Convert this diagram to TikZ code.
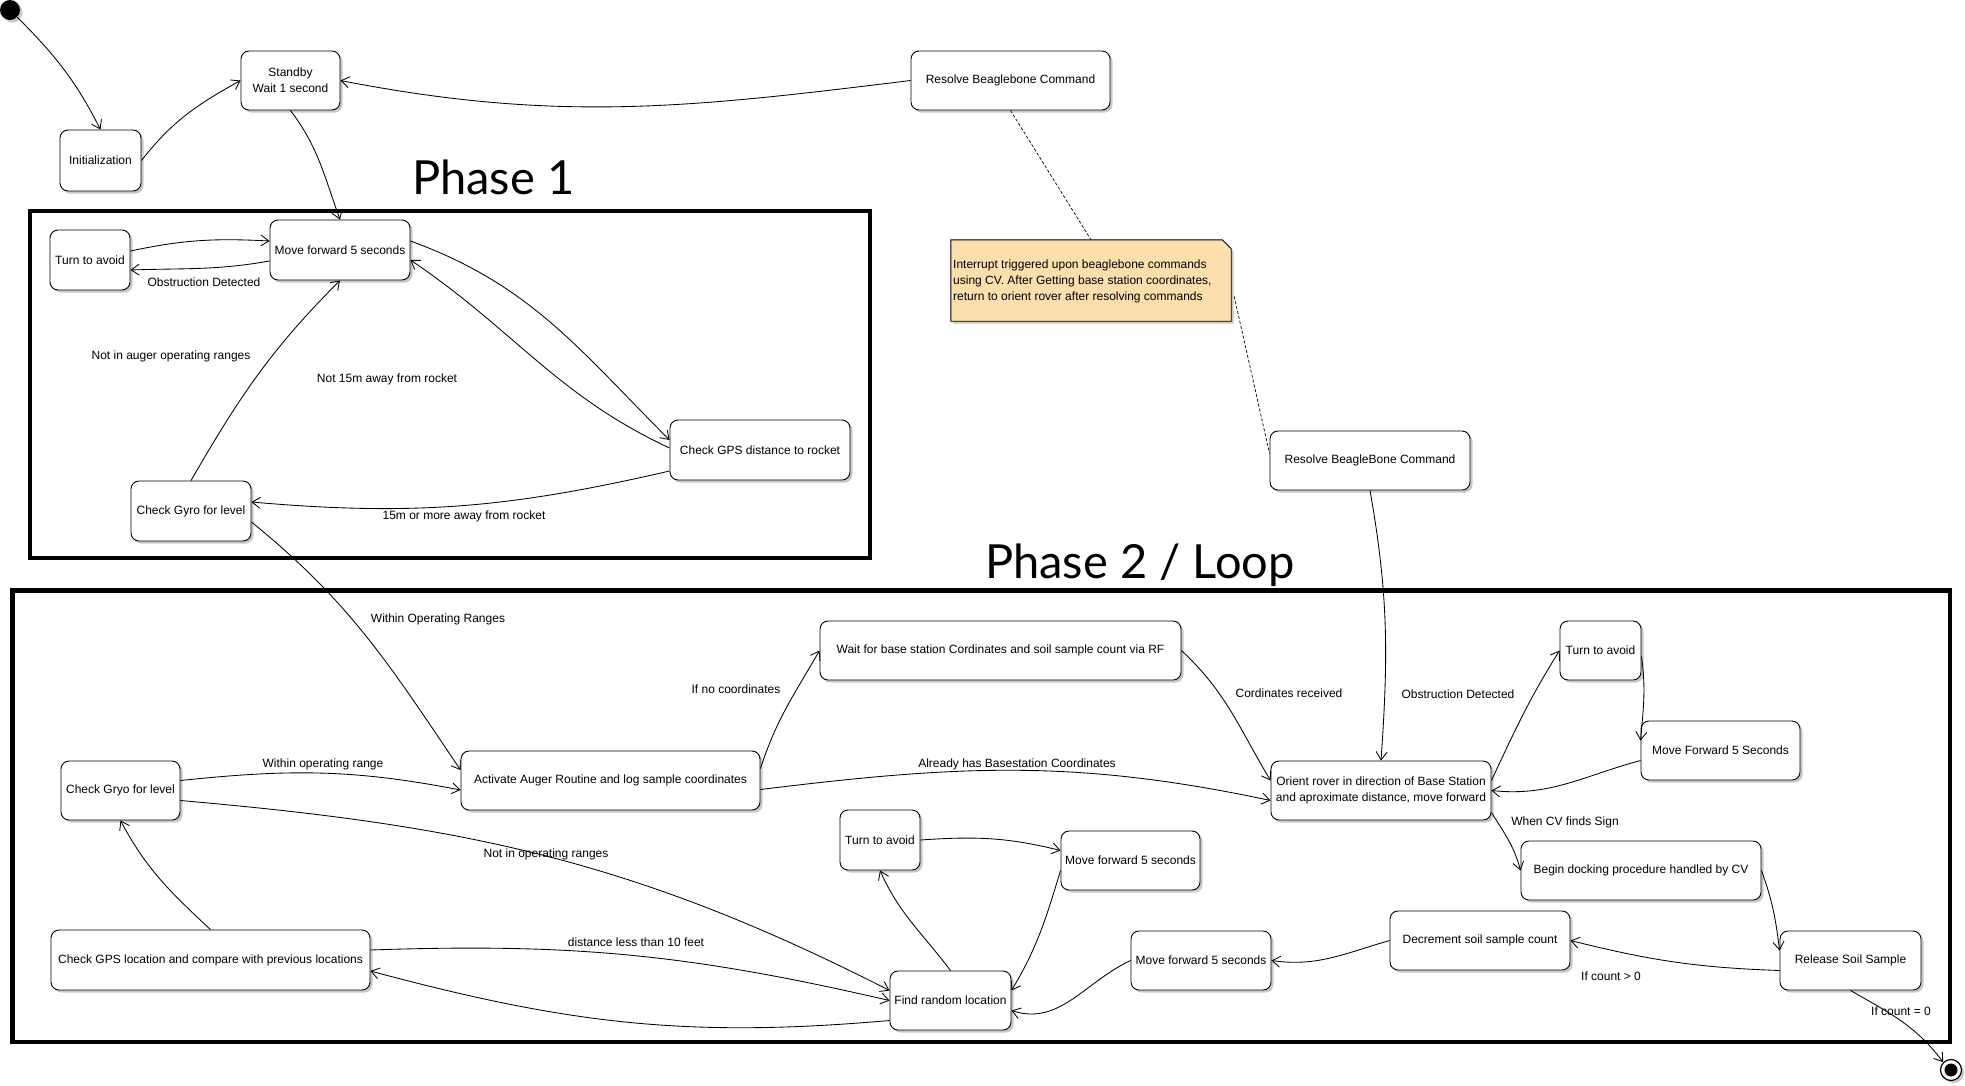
\documentclass[tikz,border=0pt]{standalone}
\usepackage{fontspec}
\setmainfont{Liberation Sans}
\newfontfamily\phasefont{Lato}
\usetikzlibrary{arrows.meta,shadows,calc}
\definecolor{notefill}{HTML}{FDDFAE}
\begin{document}
\begin{tikzpicture}[x=1pt,y=1pt,
  font=\fontsize{12}{16}\selectfont,
  shad/.style={drop shadow={shadow xshift=2.5pt,shadow yshift=-2.5pt,opacity=0.22,fill=black}},
  st/.style={draw=black, line width=0.9pt, rounded corners=8pt, fill=white, align=center, inner sep=1pt, shad},
  tr/.style={line width=0.85pt, -{Straight Barb[length=8pt,width=11pt,line width=0.85pt]}},
  lbl/.style={inner sep=0pt, text height=8.6pt, text depth=0pt, anchor=center},
  frame/.style={line width=4.5pt},
  phase/.style={font=\phasefont\fontsize{47}{53}\selectfont, inner sep=0pt, anchor=base west},
  dsh/.style={line width=0.7pt, dash pattern=on 3pt off 2pt}
]
\useasboundingbox (0,0) rectangle (1965,-1085);

% frames
\draw[frame] (30,-211) rectangle (870,-558);
\draw[frame] (12.5,-590.5) rectangle (1950,-1042);
\node[phase] (ph1) at (412,-194) {Phase 1};
\node[phase] (ph2) at (985,-578) {Phase 2 / Loop};

% pseudo states
\node[circle, fill=black, minimum size=20pt, inner sep=0pt, shad] (dot) at (10,-10) {};
\node[circle, draw=black, fill=white, line width=1.2pt, minimum size=21pt, inner sep=0pt, shad] (fin) at (1951,-1070) {};
\node[circle, fill=black, minimum size=13pt, inner sep=0pt] (finin) at (fin.center) {};

% states
\node[st, minimum width=81pt, minimum height=61pt] (init) at (100.5,-160.5) {Initialization};
\node[st, minimum width=99pt, minimum height=59pt] (standby) at (290.5,-80.5) {Standby\\Wait 1 second};
\node[st, minimum width=199pt, minimum height=59pt] (rtop) at (1010.5,-80.5) {Resolve Beaglebone Command};
\node[st, minimum width=80pt, minimum height=60pt] (t1) at (90,-260) {Turn to avoid};
\node[st, minimum width=140pt, minimum height=60pt] (m1) at (340,-250) {Move forward 5 seconds};
\node[st, minimum width=180pt, minimum height=60pt] (g1) at (760,-450) {Check GPS distance to rocket};
\node[st, minimum width=120pt, minimum height=60pt] (y1) at (191,-511) {Check Gyro for level};
\node[st, minimum width=200pt, minimum height=59pt] (rlow) at (1370,-460.5) {Resolve BeagleBone Command};
\node[st, minimum width=119pt, minimum height=59pt] (y2) at (120.5,-790.5) {Check Gryo for level};
\node[st, minimum width=299pt, minimum height=59pt] (act) at (610.5,-780.5) {Activate Auger Routine and log sample coordinates};
\node[st, minimum width=319pt, minimum height=60pt] (gl) at (210.5,-960) {Check GPS location and compare with previous locations};
\node[st, minimum width=361pt, minimum height=59pt] (wait) at (1000.5,-650.5) {Wait for base station Cordinates and soil sample count via RF};
\node[st, minimum width=220pt, minimum height=59pt] (ori) at (1381,-790.5) {Orient rover in direction of Base Station\\and aproximate distance, move forward};
\node[st, minimum width=80pt, minimum height=60pt] (t2) at (880,-840) {Turn to avoid};
\node[st, minimum width=139pt, minimum height=59pt] (m2) at (1130.5,-860.5) {Move forward 5 seconds};
\node[st, minimum width=140pt, minimum height=59pt] (m3) at (1201,-960.5) {Move forward 5 seconds};
\node[st, minimum width=121pt, minimum height=59pt] (find) at (950.5,-1000.5) {Find random location};
\node[st, minimum width=81pt, minimum height=59pt] (t3) at (1600.5,-650.5) {Turn to avoid};
\node[st, minimum width=159pt, minimum height=59pt] (m4) at (1720.5,-750.5) {Move Forward 5 Seconds};
\node[st, minimum width=240pt, minimum height=59pt] (dock) at (1641,-870.5) {Begin docking procedure handled by CV};
\node[st, minimum width=180pt, minimum height=59pt] (dec) at (1480,-940.5) {Decrement soil sample count};
\node[st, minimum width=141pt, minimum height=59pt] (rel) at (1850.5,-960.5) {Release Soil Sample};

% note
\node[minimum width=280pt, minimum height=81pt, inner sep=0pt] (note) at (1091,-280.5) {};
\filldraw[fill=notefill, draw=black, line width=0.9pt, shad] (note.north west) -- ([xshift=-9pt]note.north east) -- ([yshift=-9pt]note.north east) -- (note.south east) -- (note.south west) -- cycle;
\node[anchor=north west, align=left, inner sep=0pt] (notetext) at (953,-260) {Interrupt triggered upon beaglebone commands\\using CV. After Getting base station coordinates,\\return to orient rover after resolving commands};
\draw[dsh] (rtop.south) -- (note.north);
\draw[dsh] ([xshift=3pt,yshift=-16pt]note.east) -- ([yshift=7pt]rlow.west);

% transitions
\draw[tr] (dot.-45) to[out=-45,in=117] (init.north);
\draw[tr] (init.east) to[out=52,in=209] (standby.west);
\draw[tr] (rtop.west) to[out=187,in=-11] (standby.east);
\draw[tr] (standby.south) to[out=-53,in=110] (m1.north);
\draw[tr] ([yshift=9pt]t1.east) to[out=12,in=177] ([yshift=9pt]m1.west);
\draw[tr] ([yshift=-11pt]m1.west) to[out=190,in=2] ([yshift=-10pt]t1.east);
\draw[tr] ([yshift=9pt]m1.east) to[out=-20,in=135] ([yshift=10pt]g1.west);
\draw[tr] ([yshift=2pt]g1.west) to[out=155,in=-34] ([yshift=-10pt]m1.east);
\draw[tr] ([yshift=-21pt]g1.west) to[out=193,in=-5] ([yshift=9pt]y1.east);
\draw[tr] (y1.north) to[out=60,in=225] (m1.south);
\draw[tr] ([yshift=-11pt]y1.east) to[out=-39,in=124] ([yshift=10.5pt]act.west);
\draw[tr] ([yshift=10pt]y2.east) to[out=6,in=169] ([yshift=-9.5pt]act.west);
\draw[tr] ([yshift=-10pt]y2.east) to[out=-5,in=153] ([yshift=10pt]find.west);
\draw[tr] (gl.north) to[out=137,in=-62] (y2.south);
\draw[tr] ([yshift=10pt]gl.east) to[out=2,in=167] (find.west);
\draw[tr] ([yshift=-20pt]find.west) to[out=185,in=-15] ([yshift=-11pt]gl.east);
\draw[tr] ([yshift=12pt]act.east) to[out=72,in=240] (wait.west);
\draw[tr] ([yshift=-9pt]act.east) to[out=7,in=168] ([yshift=-10pt]ori.west);
\draw[tr] (wait.east) to[out=-43,in=121] ([yshift=10pt]ori.west);
\draw[tr] (t2.east) to[out=4,in=166] ([yshift=10pt]m2.west);
\draw[tr] ([yshift=-10pt]m2.west) to[out=-107,in=59] ([yshift=10pt]find.east);
\draw[tr] (find.north) to[out=127,in=-66] (t2.south);
\draw[tr] (m3.west) to[out=205,in=-18] ([yshift=-10pt]find.east);
\draw[tr] (dec.west) to[out=196,in=-8] (m3.east);
\draw[tr] (rlow.south) to[out=-80,in=86] (ori.north);
\draw[tr] ([yshift=10pt]ori.east) to[out=65,in=238] (t3.west);
\draw[tr] ([yshift=-6pt]t3.east) to[out=-82,in=85] ([yshift=10pt]m4.west);
\draw[tr] ([yshift=-10pt]m4.west) to[out=195,in=-6] (ori.east);
\draw[tr] ([yshift=-22pt]ori.east) to[out=-58,in=105] (dock.west);
\draw[tr] (dock.east) to[out=-70,in=97] ([yshift=10pt]rel.west);
\draw[tr] ([yshift=-10pt]rel.west) to[out=178,in=-14] (dec.east);
\draw[tr] (rel.south) to[out=-30,in=127] (fin.135);

% labels
\node[lbl] (l1) at (204,-282) {Obstruction Detected};
\node[lbl] (l2) at (171,-355) {Not in auger operating ranges};
\node[lbl] (l3) at (387,-378) {Not 15m away from rocket};
\node[lbl] (l4) at (464,-515) {15m or more away from rocket};
\node[lbl] (l5) at (438,-618) {Within Operating Ranges};
\node[lbl] (l6) at (736,-689) {If no coordinates};
\node[lbl] (l7) at (323,-763) {Within operating range};
\node[lbl] (l8) at (546,-853) {Not in operating ranges};
\node[lbl] (l9) at (636,-942) {distance less than 10 feet};
\node[lbl] (l10) at (1289,-693) {Cordinates received};
\node[lbl] (l11) at (1017,-763) {Already has Basestation Coordinates};
\node[lbl] (l12) at (1458,-694) {Obstruction Detected};
\node[lbl] (l13) at (1565,-821) {When CV finds Sign};
\node[lbl] (l14) at (1611,-976) {If count > 0};
\node[lbl] (l15) at (1901,-1011) {If count = 0};
\end{tikzpicture}
\end{document}
